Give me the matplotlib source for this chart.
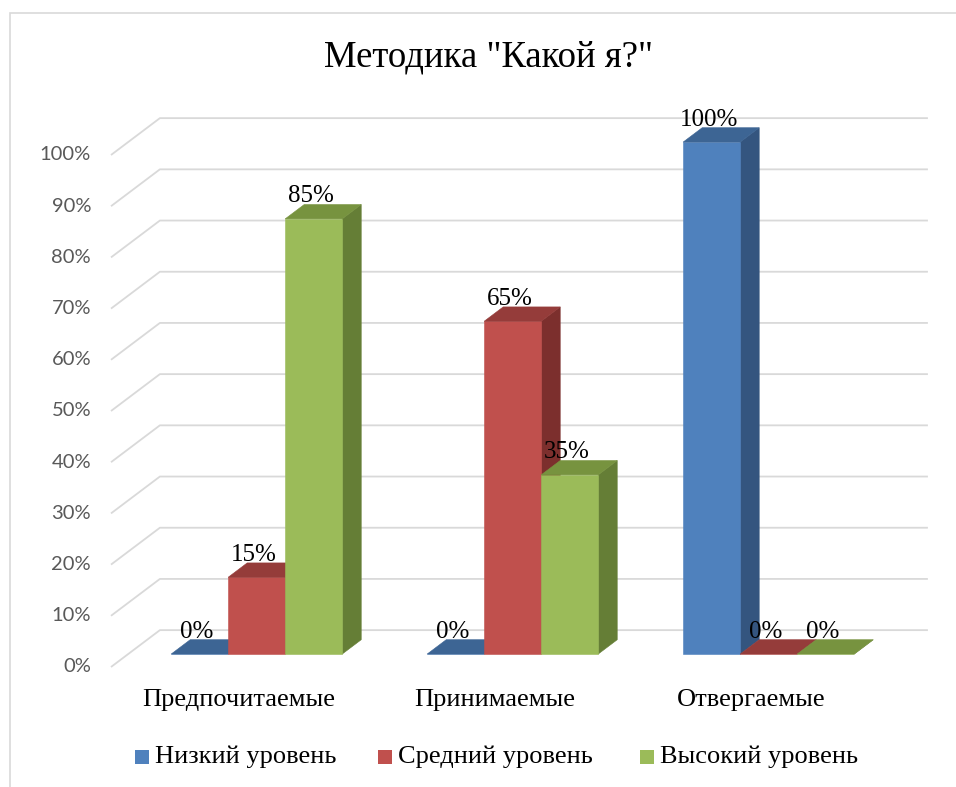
# Методика "Какой я?" - 3D clustered columns, drawn as oblique projection
import matplotlib
matplotlib.use('Agg')
import matplotlib.pyplot as plt
from matplotlib.patches import Polygon, Rectangle

# data
categories = ['Предпочитаемые', 'Принимаемые', 'Отвергаемые']
series_names = ['Низкий уровень', 'Средний уровень', 'Высокий уровень']
low = [0, 0, 100]
mid = [15, 65, 0]
high = [85, 35, 0]
y_ticks = [0, 10, 20, 30, 40, 50, 60, 70, 80, 90, 100]
title = 'Методика "Какой я?"'

series = [low, mid, high]
front_colors = ['#4F81BD', '#C0504D', '#9BBB59']
top_colors = ['#3D6594', '#953C3A', '#77933F']
side_colors = ['#34557F', '#7C2F2D', '#657E36']

# projection / layout parameters (data units: x = category, y = percent)
DX, DY = 0.191, 7.2      # full depth offset of the walls
D0, D1 = 0.35, 0.74      # front / back depth of the bars
GAP, W = 0.168, 0.2227   # side gap and bar width inside a category
PX_X, PX_Y = 256, 5.12   # pixels per data unit
X0_PX, Y0_PX = 111, 667  # pixel position of data origin
FW, FH = 956, 787

serif = 'Liberation Serif'
grid_c = '#D9D9D9'

fig = plt.figure(figsize=(FW / 100, FH / 100), dpi=100)
ax = fig.add_axes([0, 0, 1, 1])
ax.set_xlim(-X0_PX / PX_X, (FW - X0_PX) / PX_X)
ax.set_ylim((Y0_PX - FH) / PX_Y, Y0_PX / PX_Y)
ax.axis('off')

# chart border (left + top visible)
fig.patches.append(Rectangle((10 / FW, -0.1), 1.2, 1.1 - 13 / FH, transform=fig.transFigure,
                             fill=False, edgecolor=grid_c, linewidth=1.2))

ncat = len(categories)

# gridlines on side wall and back wall
for v in y_ticks:
    ax.plot([0, DX, ncat + DX], [v, v + DY, v + DY], color=grid_c, lw=1.3, zorder=1,
            solid_capstyle='butt')
    ax.text(-0.078, v, f'{v}%', ha='right', va='center', fontsize=14.5,
            color='#595959', family='Lato')

# bars
z = 2
for i in range(ncat):
    for j, vals in enumerate(series):
        v = vals[i]
        x0 = i + GAP + j * W
        xl0, xr0 = x0 + D0 * DX, x0 + W + D0 * DX
        xl1, xr1 = x0 + D1 * DX, x0 + W + D1 * DX
        yb0, yb1 = D0 * DY, D1 * DY
        side = [(xr0, yb0), (xr1, yb1), (xr1, v + yb1), (xr0, v + yb0)]
        front = [(xl0, yb0), (xr0, yb0), (xr0, v + yb0), (xl0, v + yb0)]
        top = [(xl0, v + yb0), (xr0, v + yb0), (xr1, v + yb1), (xl1, v + yb1)]
        for pts, c in [(side, side_colors[j]), (front, front_colors[j]), (top, top_colors[j])]:
            ax.add_patch(Polygon(pts, closed=True, facecolor=c, edgecolor=c,
                                 linewidth=0.4, zorder=z))
            z += 1
        ax.text((xl0 + xr0) / 2 - 0.01, v + yb1 + 0.4, f'{v}%', ha='center', va='baseline',
                fontsize=18, family=serif, color='black', zorder=100)

# category labels
for i, c in enumerate(categories):
    ax.text(i + 0.5, -6.4, c, ha='center', va='center', fontsize=19, family=serif,
            color='black')

# title
fig.text(489 / FW, 1 - 57 / FH, title, ha='center', va='center', fontsize=26.5,
         family=serif, color='black')

# legend
leg_x = [135, 378, 640]
for name, c, lx in zip(series_names, front_colors, leg_x):
    fig.patches.append(Rectangle((lx / FW, 1 - 764 / FH), 14 / FW, 14 / FH,
                                 transform=fig.transFigure, facecolor=c, edgecolor='none'))
    fig.text((lx + 20) / FW, 1 - 757 / FH, name, ha='left', va='center', fontsize=19,
             family=serif, color='black')

fig.savefig('out.png', dpi=100)
